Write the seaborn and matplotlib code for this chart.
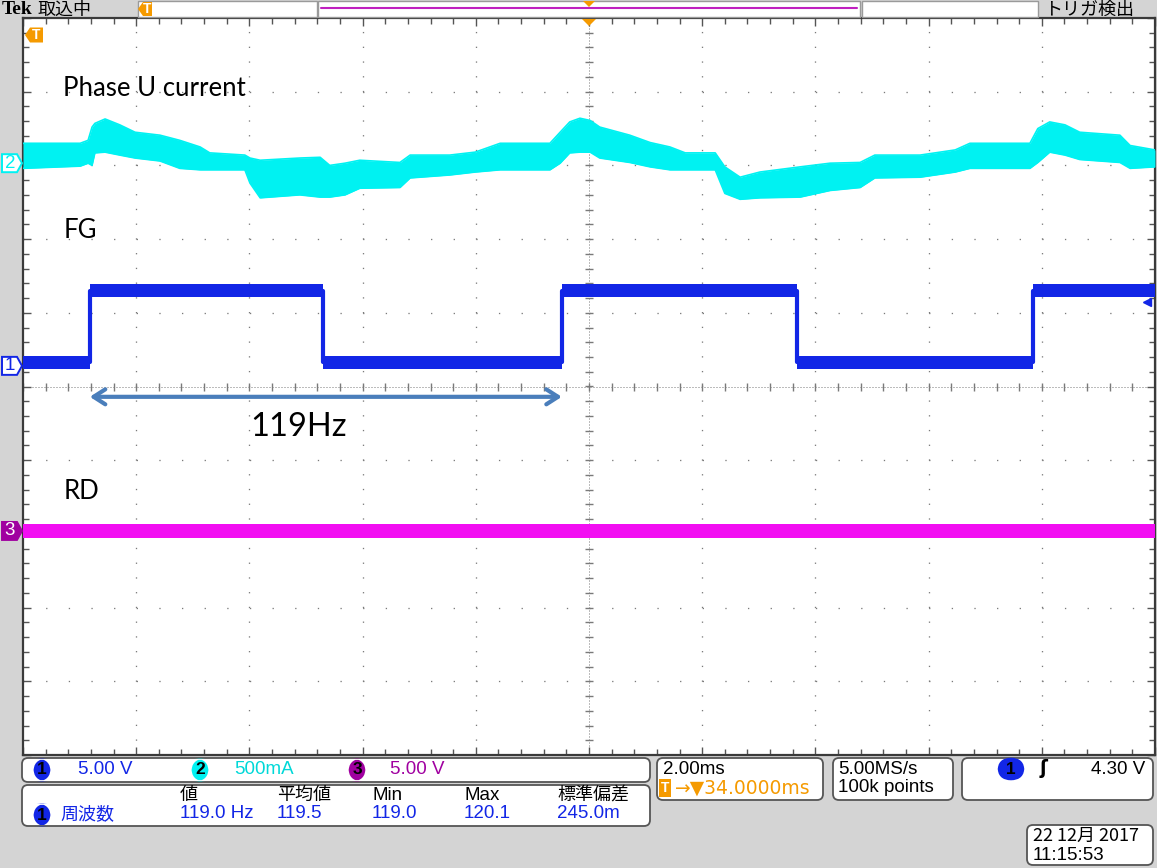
import numpy as np
import pandas as pd
import matplotlib
matplotlib.use("Agg")
import matplotlib.pyplot as plt
import seaborn as sns
from matplotlib.patches import FancyBboxPatch, Polygon, Rectangle
from matplotlib.lines import Line2D
from matplotlib.ticker import MultipleLocator

# ---------------- data ----------------
# Channel 2 : Phase U current, envelope of the noisy trace (mA)
CH2_TIME_MS = [-10.00, -8.99, -8.85, -8.78, -8.73, -8.55, -8.29, -8.02, -7.58, -7.23,
               -6.87, -6.70, -6.08, -5.99, -5.81, -5.11, -4.75, -4.58, -4.31, -4.05,
               -3.34, -3.16, -2.46, -2.01, -1.57, -0.69, -0.51, -0.34, -0.16, 0.02,
               0.19, 0.72, 1.08, 1.43, 1.70, 2.23, 2.40, 2.67, 3.02, 3.73,
               4.26, 4.79, 5.05, 5.85, 6.47, 6.73, 7.79, 7.93, 8.14, 8.41,
               8.67, 9.38, 9.56, 10.00]
CH2_HI_MA = [135, 135, 155, 245, 270, 300, 260, 210, 190, 155,
             110, 70, 55, 35, 20, 35, 40, -15, 0, 20,
             5, 55, 55, 75, 135, 135, 210, 280, 305, 290,
             245, 190, 140, 110, 70, 70, -25, -95, -60, -25,
             0, 5, 55, 55, 90, 135, 135, 235, 280, 260,
             210, 190, 120, 90]
CH2_LO_MA = [-35, -20, 0, -15, 70, 75, 55, 35, 15, -35,
             -45, -45, -45, -135, -235, -215, -230, -230, -215, -170,
             -165, -100, -80, -60, -45, -45, 0, 70, 75, 75,
             35, 5, -25, -45, -45, -45, -205, -245, -235, -230,
             -185, -165, -100, -95, -60, -35, -35, 5, 75, 55,
             25, 5, -35, -25]
CH2_SCALE_MA = 500.0        # mA / div
CH2_OFFSET_DIV = 3.03

# Channel 1 : FG square wave (V)
FG_EDGE_MS = [-8.82, -4.70, -0.48, 3.67, 7.84]
FG_LOW_V = 0.25
FG_HIGH_V = 5.10
FG_BAND_V = 0.45
CH1_SCALE_V = 5.0
CH1_OFFSET_DIV = 0.28
TRIG_LEVEL_V = 4.30

# Channel 3 : RD (V)
RD_LEVEL_V = 0.0
RD_BAND_V = 0.45
CH3_SCALE_V = 5.0
CH3_OFFSET_DIV = -1.96

TRACE_LABELS = ["Phase U current", "FG", "RD"]
FREQ_LABEL = "119Hz"

MEAS_HEADERS = ["値", "平均値", "Min", "Max", "標準偏差"]
MEAS_VALUES = ["119.0 Hz", "119.5", "119.0", "120.1", "245.0m"]
CH_SCALES = ["5.00 V", "500mA", "5.00 V"]

# ---------------- style ----------------
sns.set_theme(style="white")
plt.rcParams["font.family"] = ["Liberation Sans", "Noto Sans CJK JP", "DejaVu Sans"]
plt.rcParams["lines.scale_dashes"] = False

W, H = 1157, 868
BG = "#d4d4d4"
C1 = "#1226e6"
C2 = "#00f2f2"
C3 = "#f20ef2"
C3_DARK = "#a000a0"
ORANGE = "#f59a00"
GRID = "#7a7a7a"
CJK = ["Noto Sans CJK JP", "DejaVu Sans"]
UI = ["Liberation Sans", "DejaVu Sans"]
ANN = ["Lato", "DejaVu Sans"]

fig = plt.figure(figsize=(W / 100, H / 100), dpi=100, facecolor=BG)
ax = fig.add_axes([23 / W, 1 - 755 / H, (1155 - 23) / W, (755 - 18) / H])
ax.set_facecolor("white")
ax.set_xlim(-10, 10)
ax.set_ylim(-5, 5)

# ---------------- graticule ----------------
px = 0.72  # points per pixel
for xv in np.arange(-8, 9, 2):
    if xv == 0:
        continue
    ax.axvline(xv, color=GRID, lw=1.3 * px, ls=(0, (1.3 * px, 14.74 * px - 1.3 * px)), zorder=0)
for yv in np.arange(-4, 5, 1):
    if yv == 0:
        continue
    ax.axhline(yv, color=GRID, lw=1.3 * px, ls=(0, (1.3 * px, 22.64 * px - 1.3 * px)), zorder=0)
ax.axhline(0, color=GRID, lw=1.0 * px, ls=(0, (1 * px, 2 * px)), zorder=0)
ax.axvline(0, color=GRID, lw=1.0 * px, ls=(0, (1 * px, 2 * px)), zorder=0)
minor_x = np.arange(-10, 10.01, 0.4)
minor_y = np.arange(-5, 5.01, 0.2)
ax.plot(minor_x, np.zeros_like(minor_x), ls="none", marker="|", ms=6, mew=1, color=GRID, zorder=0)
ax.plot(np.zeros_like(minor_y), minor_y, ls="none", marker="_", ms=6, mew=1, color=GRID, zorder=0)

ax.xaxis.set_major_locator(MultipleLocator(2))
ax.xaxis.set_minor_locator(MultipleLocator(0.4))
ax.yaxis.set_major_locator(MultipleLocator(1))
ax.yaxis.set_minor_locator(MultipleLocator(0.2))
ax.tick_params(which="both", direction="in", top=True, right=True, bottom=True, left=True,
               labelbottom=False, labelleft=False, color="#555555", width=1)
ax.tick_params(which="major", length=6)
ax.tick_params(which="minor", length=4)
for s in ax.spines.values():
    s.set_color("#3a3a3a")
    s.set_linewidth(1.6)

# ---------------- traces ----------------
# CH2 current
df2 = pd.DataFrame({"t": CH2_TIME_MS,
                    "hi": CH2_OFFSET_DIV + np.array(CH2_HI_MA) / CH2_SCALE_MA,
                    "lo": CH2_OFFSET_DIV + np.array(CH2_LO_MA) / CH2_SCALE_MA})
ax.fill_between(df2["t"], df2["lo"], df2["hi"], color=C2, lw=0, zorder=3)
sns.lineplot(data=df2, x="t", y="hi", color=C2, lw=1.2, ax=ax, zorder=3)
sns.lineplot(data=df2, x="t", y="lo", color=C2, lw=1.2, ax=ax, zorder=3)

# CH1 FG
fg_t = [-10.0] + FG_EDGE_MS + [10.0]
fg_v = []
for i in range(len(FG_EDGE_MS) + 1):
    fg_v.append(FG_LOW_V if i % 2 == 0 else FG_HIGH_V)
fg_v.append(fg_v[-1])
df1 = pd.DataFrame({"t": fg_t, "v": CH1_OFFSET_DIV + np.array(fg_v) / CH1_SCALE_V})
ax.fill_between(df1["t"], df1["v"] - FG_BAND_V / CH1_SCALE_V, df1["v"] + FG_BAND_V / CH1_SCALE_V,
                step="post", color=C1, lw=0, zorder=4)
sns.lineplot(data=df1, x="t", y="v", color=C1, lw=3.0, drawstyle="steps-post", ax=ax, zorder=4)

# CH3 RD
df3 = pd.DataFrame({"t": [-10.0, 10.0], "v": [CH3_OFFSET_DIV + RD_LEVEL_V / CH3_SCALE_V] * 2})
ax.fill_between(df3["t"], df3["v"] - RD_BAND_V / CH3_SCALE_V, df3["v"] + RD_BAND_V / CH3_SCALE_V,
                color=C3, lw=0, zorder=3)
sns.lineplot(data=df3, x="t", y="v", color=C3, lw=1, ax=ax, zorder=3)
ax.set_xlabel("")
ax.set_ylabel("")

# trigger level marker on right edge
trig_div = CH1_OFFSET_DIV + TRIG_LEVEL_V / CH1_SCALE_V
ax.plot([9.85], [trig_div], marker="<", ms=6, color=C1, ls="none", zorder=6, clip_on=False)

# ---------------- annotations ----------------
ax.text(-9.29, 4.04, TRACE_LABELS[0], fontsize=18.5, family=ANN, va="center", ha="left", color="black", zorder=7)
ax.text(-9.29, 2.11, TRACE_LABELS[1], fontsize=18.5, family=ANN, va="center", ha="left", color="black", zorder=7)
ax.text(-9.29, -1.42, TRACE_LABELS[2], fontsize=18.5, family=ANN, va="center", ha="left", color="black", zorder=7)
arrow_y = -0.14
ax.annotate("", xy=(FG_EDGE_MS[2], arrow_y), xytext=(FG_EDGE_MS[0], arrow_y),
            arrowprops=dict(arrowstyle="<->,head_length=0.7,head_width=0.45", color="#4a7ebb",
                            lw=3.0, shrinkA=0, shrinkB=0), zorder=7)
ax.text(-5.99, -0.55, FREQ_LABEL, fontsize=23.5, family=ANN, va="center", ha="left", color="black", zorder=7)

# ---------------- helpers for screen furniture (pixel coords, top-left origin) ----------------
def ftext(x, y, s, **kw):
    kw.setdefault("va", "center")
    kw.setdefault("ha", "left")
    kw.setdefault("zorder", 8)
    return fig.text(x / W, 1 - y / H, s, **kw)

def rbox(x0, y0, x1, y1, r=6, fc="white", ec="#555555", lw=1.3):
    p = FancyBboxPatch((x0, H - y1), x1 - x0, y1 - y0, boxstyle=f"round,pad=0,rounding_size={r}",
                       transform=None, fc=fc, ec=ec, lw=lw, zorder=1)
    fig.add_artist(p)

def rect(x0, y0, x1, y1, fc="white", ec="#9a9a9a", lw=1.0):
    p = Rectangle((x0, H - y1), x1 - x0, y1 - y0, transform=None, fc=fc, ec=ec, lw=lw, zorder=1)
    fig.add_artist(p)

def badge(x, y, s, fc, tc="black", fs=12.5):
    ftext(x, y, s, ha="center", fontsize=fs, color=tc, family=UI, weight="bold",
          bbox=dict(boxstyle="round,pad=0.22,rounding_size=0.8", fc=fc, ec="none"))

def data_y_px(yd):
    return H - ax.transData.transform((0, yd))[1]

def ch_marker(yd, num, fc, ec, tc):
    yc = data_y_px(yd)
    pts = [(2, H - (yc - 9)), (17, H - (yc - 9)), (22, H - yc), (17, H - (yc + 9)), (2, H - (yc + 9))]
    fig.add_artist(Polygon(pts, closed=True, transform=None, fc=fc, ec=ec, lw=1.4, zorder=5))
    ftext(10, yc, num, ha="center", fontsize=13.5, color=tc, family=UI, zorder=9)

ch_marker(CH2_OFFSET_DIV, "2", "white", C2, C2)
ch_marker(CH1_OFFSET_DIV, "1", "white", C1, C1)
ch_marker(CH3_OFFSET_DIV, "3", C3_DARK, C3_DARK, "white")

# orange trigger markers
def t_marker(xc, yc, w=18, h=15):
    pts = [(xc - w / 2, H - yc), (xc - w / 2 + 5, H - (yc - h / 2)), (xc + w / 2, H - (yc - h / 2)),
           (xc + w / 2, H - (yc + h / 2)), (xc - w / 2 + 5, H - (yc + h / 2))]
    fig.add_artist(Polygon(pts, closed=True, transform=None, fc=ORANGE, ec="none", zorder=6))
    ftext(xc + 2, yc, "T", ha="center", fontsize=10, color="white", family=UI, weight="bold", zorder=9)

t_marker(34, 35)
cx = ax.transData.transform((0, 0))[0]
fig.add_artist(Polygon([(cx - 7, H - 19), (cx + 7, H - 19), (cx, H - 26)], closed=True,
                       transform=None, fc=ORANGE, ec="none", zorder=6))

# ---------------- top bar ----------------
ftext(2, 10, "Tek", fontsize=14, family=["Liberation Serif"], weight="bold", color="black")
ftext(38, 10, "取込中", fontsize=13, family=CJK, color="black")
rect(138, 1, 317, 17)
t_marker(145, 9, w=14, h=14)
rect(318, 1, 860, 17)
fig.add_artist(Line2D([321, 857], [H - 8, H - 8], transform=None, color="#c020c0", lw=1.5))
fig.add_artist(Polygon([(cx - 6, H - 1), (cx + 6, H - 1), (cx, H - 7)], closed=True,
                       transform=None, fc=ORANGE, ec="none", zorder=6))
rect(862, 1, 1038, 17)
ftext(1044, 10, "トリガ検出", fontsize=13, family=CJK, color="black")

# ---------------- bottom readouts ----------------
FS = 13.5
rbox(22, 758, 650, 782)
badge(42, 770, "1", C1)
ftext(78, 770, CH_SCALES[0], fontsize=FS, family=UI, color=C1)
badge(200, 770, "2", C2)
ftext(234, 770, CH_SCALES[1], fontsize=FS, family=UI, color="#00d8d8")
badge(357, 770, "3", C3_DARK)
ftext(390, 770, CH_SCALES[2], fontsize=FS, family=UI, color=C3_DARK)

rbox(22, 785, 650, 826)
meas_x = [180, 277, 372, 464, 557]
for mx, hd, val in zip(meas_x, MEAS_HEADERS, MEAS_VALUES):
    latin = hd in ("Min", "Max")
    ftext(mx, 795, hd, fontsize=FS if latin else 13, family=UI if latin else CJK, color="black")
    ftext(mx, 814, val, fontsize=FS, family=UI, color=C1)
badge(42, 815, "1", C1)
ftext(60, 814, "周波数", fontsize=13, family=CJK, color=C1)

rbox(657, 758, 823, 800)
ftext(663, 769, "2.00ms", fontsize=FS, family=UI, color="black")
ftext(661, 788, "T", fontsize=10, family=UI, color="white", weight="bold",
      bbox=dict(boxstyle="square,pad=0.15", fc=ORANGE, ec="none"))
ftext(675, 788, "→▼34.0000ms", fontsize=FS, family=["DejaVu Sans"], color=ORANGE)

rbox(833, 758, 953, 800)
ftext(838, 769, "5.00MS/s", fontsize=FS, family=UI, color="black")
ftext(838, 788, "100k points", fontsize=FS, family=UI, color="black")

rbox(962, 758, 1153, 800)
badge(1011, 769, " 1 ", C1)
ftext(1040, 769, "ʃ", fontsize=FS, family=["DejaVu Sans"], color="black", weight="bold")
ftext(1145, 769, "4.30 V", fontsize=FS, family=UI, color="black", ha="right")

rbox(1027, 825, 1153, 865)
ftext(1033, 836, "22 12月 2017", fontsize=FS - 0.5, family=CJK, color="black")
ftext(1033, 855, "11:15:53", fontsize=FS, family=UI, color="black")

fig.savefig("out.png", dpi=100, facecolor=BG)
